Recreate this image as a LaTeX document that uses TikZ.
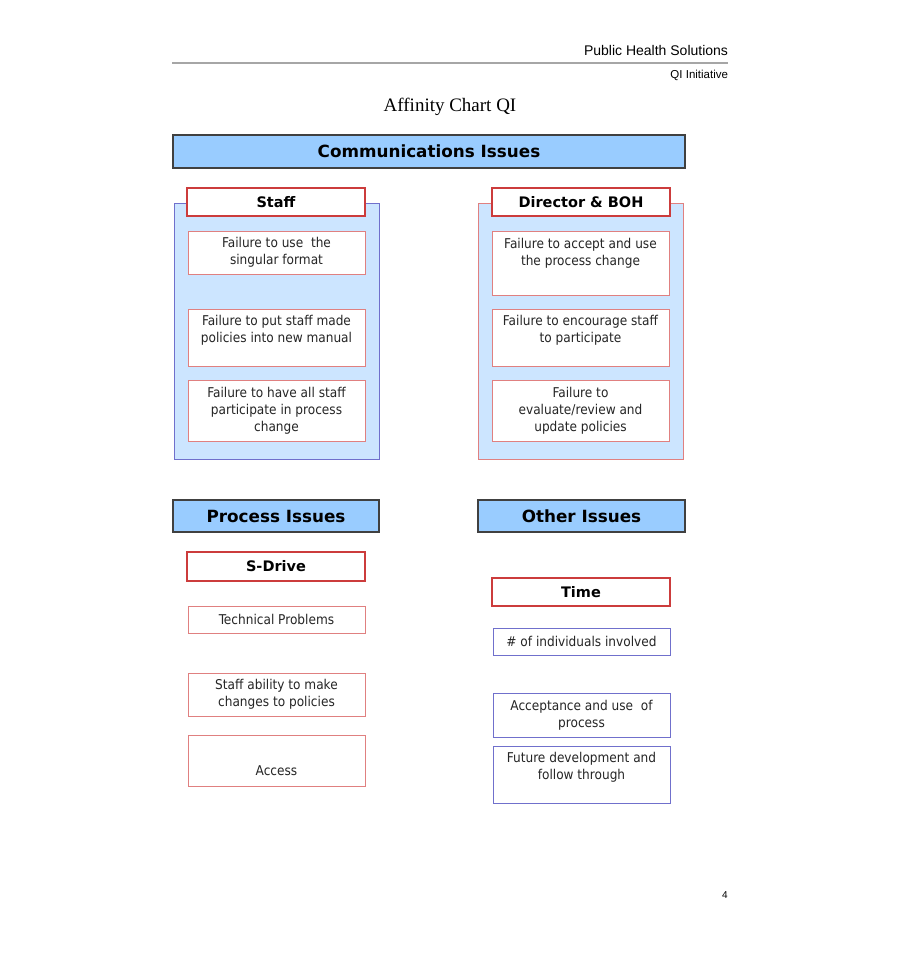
\documentclass[tikz,border=0pt]{standalone}
\usepackage{fontspec}
\setmainfont{Liberation Serif}
\newfontfamily\boxfont{DejaVu Sans Condensed}
\newfontfamily\headfont{DejaVu Sans}
\newfontfamily\arialfont{Liberation Sans}
\definecolor{headblue}{RGB}{153,204,255}
\definecolor{panelblue}{RGB}{204,229,255}
\definecolor{redbox}{RGB}{204,60,60}
\definecolor{redline}{RGB}{224,128,128}
\definecolor{blueline}{RGB}{112,112,204}

\begin{document}
\begin{tikzpicture}[x=1pt,y=-1pt,
 every node/.style={inner sep=0pt,outer sep=0pt},
 head/.style={draw=black!75,line width=1.3pt,fill=headblue,anchor=north west,font=\headfont\bfseries\fontsize{16.8}{19}\selectfont},
 panel/.style={fill=panelblue,line width=1pt,anchor=north west,minimum width=205,minimum height=256},
 grp/.style={draw=redbox,line width=1.5pt,fill=white,anchor=north west,minimum width=178,minimum height=28,font=\headfont\bfseries\fontsize{14.5}{17}\selectfont},
 item/.style={draw=redline,line width=.9pt,fill=white,anchor=north west,minimum width=177,align=center,text=black!85,font=\boxfont\fontsize{13.5}{17}\selectfont},
 itemb/.style={item,draw=blueline}]
\fill[white] (0,0) rectangle (900,960);
\useasboundingbox (0,0) rectangle (900,960);

% page header
\node[font=\arialfont\fontsize{14}{16}\selectfont,anchor=base east] (phs) at (728,56) {Public Health Solutions};
\draw[black!35,line width=1.5pt] (172,63) -- (728,63);
\node[font=\arialfont\fontsize{11.5}{13}\selectfont,anchor=base east] (qi) at (728,79) {QI Initiative};
\node[font=\fontsize{19}{22}\selectfont,anchor=base] (title) at (450,112) {Affinity Chart QI};

% communications
\node[head,minimum width=512,minimum height=33] (comm) at (173,135) {Communications Issues};
\node[panel,draw=blueline] (staffpanel) at (174,203) {};
\node[panel,draw=redline] (dirpanel) at (478,203) {};
\node[grp] (staff) at (187,188) {Staff};
\node[grp] (dir) at (492,188) {Director \& BOH};

\foreach \n/\x/\y/\h/\txt in {
 s1/188/231/43/{Failure to use\ \ the\\singular format},
 s2/188/309/57/{Failure to put staff made\\policies into new manual\\\mbox{}},
 s3/188/380/61/{Failure to have all staff\\participate in process\\change},
 d1/492/231/64/{Failure to accept and use\\the process change\\[5pt]\mbox{}},
 d2/492/309/57/{Failure to encourage staff\\to participate\\\mbox{}},
 d3/492/380/61/{Failure to\\evaluate/review and\\update policies}}
 \node[item,minimum height=\h] (\n) at (\x,\y) {\txt};

% process / other
\node[head,minimum width=206,minimum height=32] (proc) at (173,500) {Process Issues};
\node[head,minimum width=207,minimum height=32] (other) at (478,500) {Other Issues};
\node[grp,minimum height=29] (sdrive) at (187,552) {S-Drive};
\node[grp] (time) at (492,578) {Time};

\node[item,minimum height=27] (p1) at (188,606) {Technical Problems};
\node[item,minimum height=43] (p2) at (188,673) {Staff ability to make\\changes to policies};
\node[item,minimum height=51] (p3) at (188,735) {\strut\\[6pt]\strut Access};

\node[itemb,minimum height=27] (o1) at (493,628) {\# of individuals involved};
\node[itemb,minimum height=44] (o2) at (493,693) {Acceptance and use\ \ of\\process};
\node[itemb,minimum height=57] (o3) at (493,746) {Future development and\\follow through\\\mbox{}};

\node[font=\arialfont\fontsize{10}{12}\selectfont] (pg) at (725,895) {4};
\end{tikzpicture}
\end{document}
